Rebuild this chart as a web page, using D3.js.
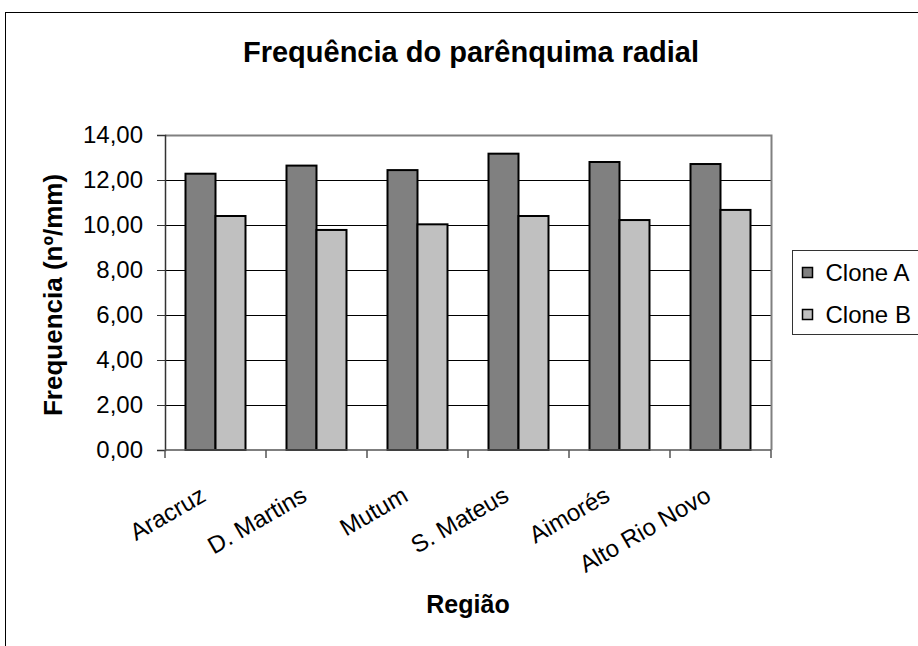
<!DOCTYPE html>
<html>
<head>
<meta charset="utf-8">
<script src="https://cdn.jsdelivr.net/npm/d3@7"></script>
<style>
  html, body { margin: 0; padding: 0; background: #fff; }
  svg { display: block; font-family: "Liberation Sans", Arial, sans-serif; }
</style>
</head>
<body>
<svg id="chart" width="918" height="646"></svg>
<script>
// Regions sampled and mean radial parenchyma frequency per clone (nº/mm)
const regions = ["Aracruz", "D. Martins", "Mutum", "S. Mateus", "Aimorés", "Alto Rio Novo"];
const cloneA = [12.28, 12.64, 12.44, 13.17, 12.80, 12.71];
const cloneB = [10.40, 9.78, 10.03, 10.40, 10.22, 10.67];
const seriesNames = ["Clone A", "Clone B"];
const seriesColors = ["#808080", "#c0c0c0"];
const yTicks = [0, 2, 4, 6, 8, 10, 12, 14];

const svg = d3.select("#chart");

// outer frame of the chart
svg.append("rect")
  .attr("x", 5.5).attr("y", 12.5)
  .attr("width", 1000).attr("height", 1000)
  .attr("fill", "#fff").attr("stroke", "#000").attr("stroke-width", 1);

const plot = { left: 165, right: 771, top: 135, bottom: 450 };

const x0 = d3.scaleBand()
  .domain(regions)
  .range([plot.left, plot.right])
  .paddingInner(0.406)
  .paddingOuter(0.203);

const x1 = d3.scaleBand()
  .domain(seriesNames)
  .range([0, x0.bandwidth()]);

const y = d3.scaleLinear().domain([0, 14]).range([plot.bottom, plot.top]);

const fmt = v => d3.format(".2f")(v).replace(".", ",");

// gridlines
svg.append("g")
  .selectAll("line")
  .data(yTicks.filter(t => t > 0 && t < 14))
  .join("line")
  .attr("x1", plot.left).attr("x2", plot.right)
  .attr("y1", d => Math.round(y(d)) + 0.5).attr("y2", d => Math.round(y(d)) + 0.5)
  .attr("stroke", "#000").attr("stroke-width", 1);

// plot area frame (top and right)
svg.append("path")
  .attr("d", `M${plot.left},${plot.top + 0.5}H${plot.right + 0.5}V${plot.bottom}`)
  .attr("fill", "none").attr("stroke", "#808080").attr("stroke-width", 2);

// bars
const rows = regions.map((r, i) => ({ region: r, values: [cloneA[i], cloneB[i]] }));
svg.append("g")
  .selectAll("g")
  .data(rows)
  .join("g")
  .attr("transform", d => `translate(${x0(d.region)},0)`)
  .selectAll("rect")
  .data(d => d.values.map((v, k) => ({ name: seriesNames[k], value: v, k })))
  .join("rect")
  .attr("x", d => x1(d.name))
  .attr("y", d => y(d.value))
  .attr("width", x1.bandwidth())
  .attr("height", d => y(0) - y(d.value))
  .attr("fill", d => seriesColors[d.k])
  .attr("stroke", "#000").attr("stroke-width", 2);

// y axis
const yAxis = d3.axisLeft(y).tickValues(yTicks).tickFormat(fmt).tickSize(8).tickPadding(14);
const gy = svg.append("g").attr("transform", `translate(${plot.left},0)`).call(yAxis);
gy.select(".domain").attr("stroke", "#333").attr("stroke-width", 1.5);
gy.selectAll(".tick line").attr("stroke", "#333");
gy.selectAll(".tick text")
  .attr("font-size", 24).attr("fill", "#000")
  .attr("font-family", "'Liberation Sans', Arial, sans-serif");

// x axis with ticks at category boundaries
const gx = svg.append("g").attr("transform", `translate(0,${plot.bottom})`);
gx.append("line")
  .attr("x1", plot.left).attr("x2", plot.right)
  .attr("stroke", "#555").attr("stroke-width", 1.5);
const boundaries = regions.map(r => x0(r) - x0.step() * x0.paddingOuter()).concat([plot.right]);
gx.selectAll("line.tick")
  .data(boundaries)
  .join("line")
  .attr("class", "tick")
  .attr("x1", d => d).attr("x2", d => d)
  .attr("y1", 0).attr("y2", 8)
  .attr("stroke", "#555").attr("stroke-width", 1.5);

gx.selectAll("text")
  .data(regions)
  .join("text")
  .attr("transform", d => `translate(${x0(d) + x0.bandwidth() / 2 - 8},${50}) rotate(-30)`)
  .attr("text-anchor", "end")
  .attr("font-size", 24)
  .attr("fill", "#000")
  .text(d => d);

// titles
svg.append("text")
  .attr("x", 471).attr("y", 62)
  .attr("text-anchor", "middle")
  .attr("font-size", 29).attr("font-weight", "bold")
  .text("Frequência do parênquima radial");

svg.append("text")
  .attr("x", 468).attr("y", 613)
  .attr("text-anchor", "middle")
  .attr("font-size", 25).attr("font-weight", "bold")
  .text("Região");

svg.append("text")
  .attr("transform", `translate(62,295) rotate(-90)`)
  .attr("text-anchor", "middle")
  .attr("font-size", 26).attr("font-weight", "bold")
  .text("Frequencia (nº/mm)");

// legend
const legend = svg.append("g").attr("transform", "translate(792.5,250.5)");
legend.append("rect")
  .attr("width", 200).attr("height", 84)
  .attr("fill", "#fff").attr("stroke", "#333").attr("stroke-width", 1);
const li = legend.selectAll("g.item")
  .data(seriesNames)
  .join("g")
  .attr("class", "item")
  .attr("transform", (d, i) => `translate(10,${22 + i * 42})`);
li.append("rect")
  .attr("x", 0).attr("y", -5)
  .attr("width", 10).attr("height", 10)
  .attr("fill", (d, i) => seriesColors[i])
  .attr("stroke", "#000").attr("stroke-width", 1.5);
li.append("text")
  .attr("x", 23).attr("y", 8)
  .attr("font-size", 24)
  .text(d => d);
</script>
</body>
</html>
